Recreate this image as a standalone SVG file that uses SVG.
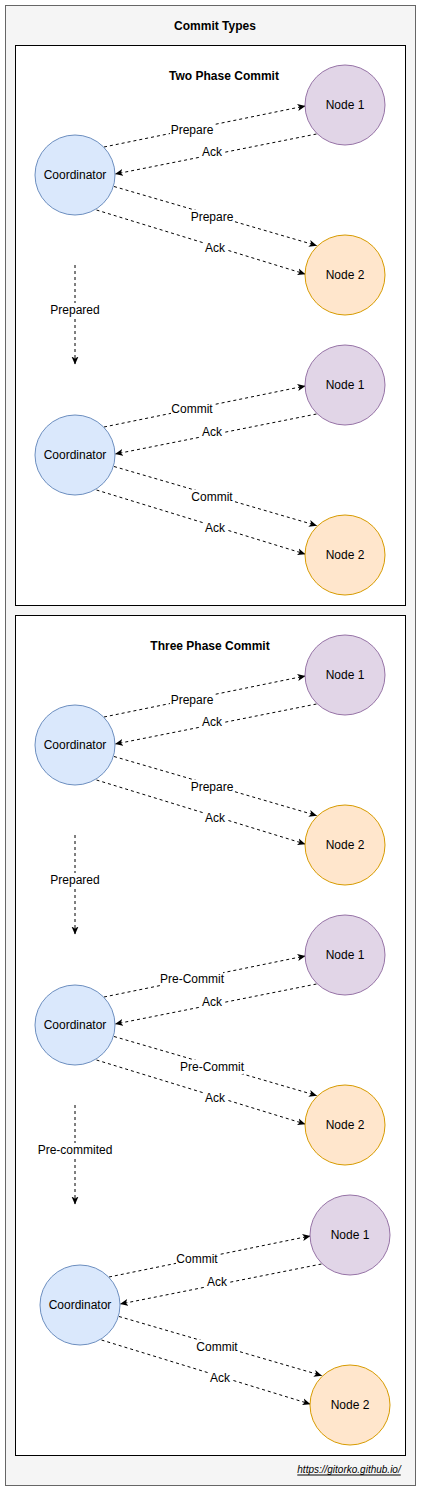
<svg xmlns="http://www.w3.org/2000/svg" width="422" height="1491" viewBox="0 0 422 1491">
<style>
text{font-family:"Liberation Sans",Arial,sans-serif;font-size:12px;fill:#000;text-anchor:middle;dominant-baseline:central}
.b{font-weight:bold}
.co{fill:#dae8fc;stroke:#6c8ebf}
.n1{fill:#e1d5e7;stroke:#9673a6}
.n2{fill:#ffe6cc;stroke:#d79b00}
.e{fill:none;stroke:#000;stroke-dasharray:3 3;marker-end:url(#ar)}
.lb{fill:#fff}
</style>
<defs>
<marker id="ar" markerUnits="userSpaceOnUse" viewBox="0 0 8 8" refX="7.5" refY="4" markerWidth="8" markerHeight="8" orient="auto">
<path d="M0,0.5 L8,4 L0,7.5 L2,4 Z" fill="#000"/>
</marker>
</defs>
<g id="container">
<rect x="5.5" y="5.5" width="410" height="1480" fill="#f5f5f5" stroke="#666666"/>
<text class="b" x="215" y="26">Commit Types</text>
<text x="349" y="1469" style="font-size:10px;font-style:italic;text-decoration:underline">https://gitorko.github.io/</text>
</g>
<g id="box-2pc"><rect x="15.5" y="45.5" width="390" height="560" fill="#fff" stroke="#000"/><text class="b" x="224" y="76">Two Phase Commit</text></g>
<g id="box-3pc"><rect x="15.5" y="615.5" width="390" height="840" fill="#fff" stroke="#000"/><text class="b" x="210" y="646">Three Phase Commit</text></g>

<g id="connectors">
<path class="e" d="M104,147 L305,106"/>
<path class="e" d="M316.5,134 L115.5,174"/>
<path class="e" d="M114,186.5 L316.5,245.5"/>
<path class="e" d="M96.5,210 L305,274"/>
<path class="e" d="M75,265 L75,364"/>
<path class="e" d="M104,427 L305,386"/>
<path class="e" d="M316.5,414 L115.5,454"/>
<path class="e" d="M114,466.5 L316.5,525.5"/>
<path class="e" d="M96.5,490 L305,554"/>
<path class="e" d="M104,717 L305,676"/>
<path class="e" d="M316.5,704 L115.5,744"/>
<path class="e" d="M114,756.5 L316.5,815.5"/>
<path class="e" d="M96.5,780 L305,844"/>
<path class="e" d="M75,835 L75,934"/>
<path class="e" d="M104,997 L305,956"/>
<path class="e" d="M316.5,984 L115.5,1024"/>
<path class="e" d="M114,1036.5 L316.5,1095.5"/>
<path class="e" d="M96.5,1060 L305,1124"/>
<path class="e" d="M75,1105 L75,1204"/>
<path class="e" d="M109,1277 L310,1236"/>
<path class="e" d="M321.5,1264 L120.5,1304"/>
<path class="e" d="M119,1316.5 L321.5,1375.5"/>
<path class="e" d="M101.5,1340 L310,1404"/>
<g id="edge-labels">
<rect class="lb" x="170" y="123" width="44" height="14"/><text x="192" y="130">Prepare</text>
<rect class="lb" x="201" y="146" width="22" height="14"/><text x="212" y="152">Ack</text>
<rect class="lb" x="190" y="210" width="44" height="14"/><text x="212" y="217">Prepare</text>
<rect class="lb" x="204" y="242" width="22" height="14"/><text x="215" y="248">Ack</text>
<rect class="lb" x="49" y="303" width="52" height="14"/><text x="75" y="310">Prepared</text>
<rect class="lb" x="171" y="402" width="42" height="14"/><text x="192" y="409">Commit</text>
<rect class="lb" x="201" y="426" width="22" height="14"/><text x="212" y="432">Ack</text>
<rect class="lb" x="191" y="490" width="42" height="14"/><text x="212" y="497">Commit</text>
<rect class="lb" x="204" y="522" width="22" height="14"/><text x="215" y="528">Ack</text>
<rect class="lb" x="170" y="693" width="44" height="14"/><text x="192" y="700">Prepare</text>
<rect class="lb" x="201" y="716" width="22" height="14"/><text x="212" y="722">Ack</text>
<rect class="lb" x="190" y="780" width="44" height="14"/><text x="212" y="787">Prepare</text>
<rect class="lb" x="204" y="812" width="22" height="14"/><text x="215" y="818">Ack</text>
<rect class="lb" x="49" y="873" width="52" height="14"/><text x="75" y="880">Prepared</text>
<rect class="lb" x="161" y="972" width="62" height="14"/><text x="192" y="979">Pre-Commit</text>
<rect class="lb" x="201" y="996" width="22" height="14"/><text x="212" y="1002">Ack</text>
<rect class="lb" x="181" y="1060" width="62" height="14"/><text x="212" y="1067">Pre-Commit</text>
<rect class="lb" x="204" y="1092" width="22" height="14"/><text x="215" y="1098">Ack</text>
<rect class="lb" x="38" y="1143" width="75" height="14"/><text x="75" y="1150">Pre-commited</text>
<rect class="lb" x="176" y="1252" width="42" height="14"/><text x="197" y="1259">Commit</text>
<rect class="lb" x="206" y="1276" width="22" height="14"/><text x="217" y="1282">Ack</text>
<rect class="lb" x="196" y="1340" width="42" height="14"/><text x="217" y="1347">Commit</text>
<rect class="lb" x="209" y="1372" width="22" height="14"/><text x="220" y="1378">Ack</text>
</g>
</g>

<g id="coord-1"><circle class="co" cx="75" cy="175" r="40"/><text x="75" y="175">Coordinator</text></g>
<g id="node1-1"><circle class="n1" cx="345" cy="105" r="40"/><text x="345" y="105">Node 1</text></g>
<g id="node2-1"><circle class="n2" cx="345" cy="275" r="40"/><text x="345" y="275">Node 2</text></g>

<g id="coord-2"><circle class="co" cx="75" cy="455" r="40"/><text x="75" y="455">Coordinator</text></g>
<g id="node1-2"><circle class="n1" cx="345" cy="385" r="40"/><text x="345" y="385">Node 1</text></g>
<g id="node2-2"><circle class="n2" cx="345" cy="555" r="40"/><text x="345" y="555">Node 2</text></g>

<g id="coord-3"><circle class="co" cx="75" cy="745" r="40"/><text x="75" y="745">Coordinator</text></g>
<g id="node1-3"><circle class="n1" cx="345" cy="675" r="40"/><text x="345" y="675">Node 1</text></g>
<g id="node2-3"><circle class="n2" cx="345" cy="845" r="40"/><text x="345" y="845">Node 2</text></g>

<g id="coord-4"><circle class="co" cx="75" cy="1025" r="40"/><text x="75" y="1025">Coordinator</text></g>
<g id="node1-4"><circle class="n1" cx="345" cy="955" r="40"/><text x="345" y="955">Node 1</text></g>
<g id="node2-4"><circle class="n2" cx="345" cy="1125" r="40"/><text x="345" y="1125">Node 2</text></g>

<g id="coord-5"><circle class="co" cx="80" cy="1305" r="40"/><text x="80" y="1305">Coordinator</text></g>
<g id="node1-5"><circle class="n1" cx="350" cy="1235" r="40"/><text x="350" y="1235">Node 1</text></g>
<g id="node2-5"><circle class="n2" cx="350" cy="1405" r="40"/><text x="350" y="1405">Node 2</text></g>
</svg>
